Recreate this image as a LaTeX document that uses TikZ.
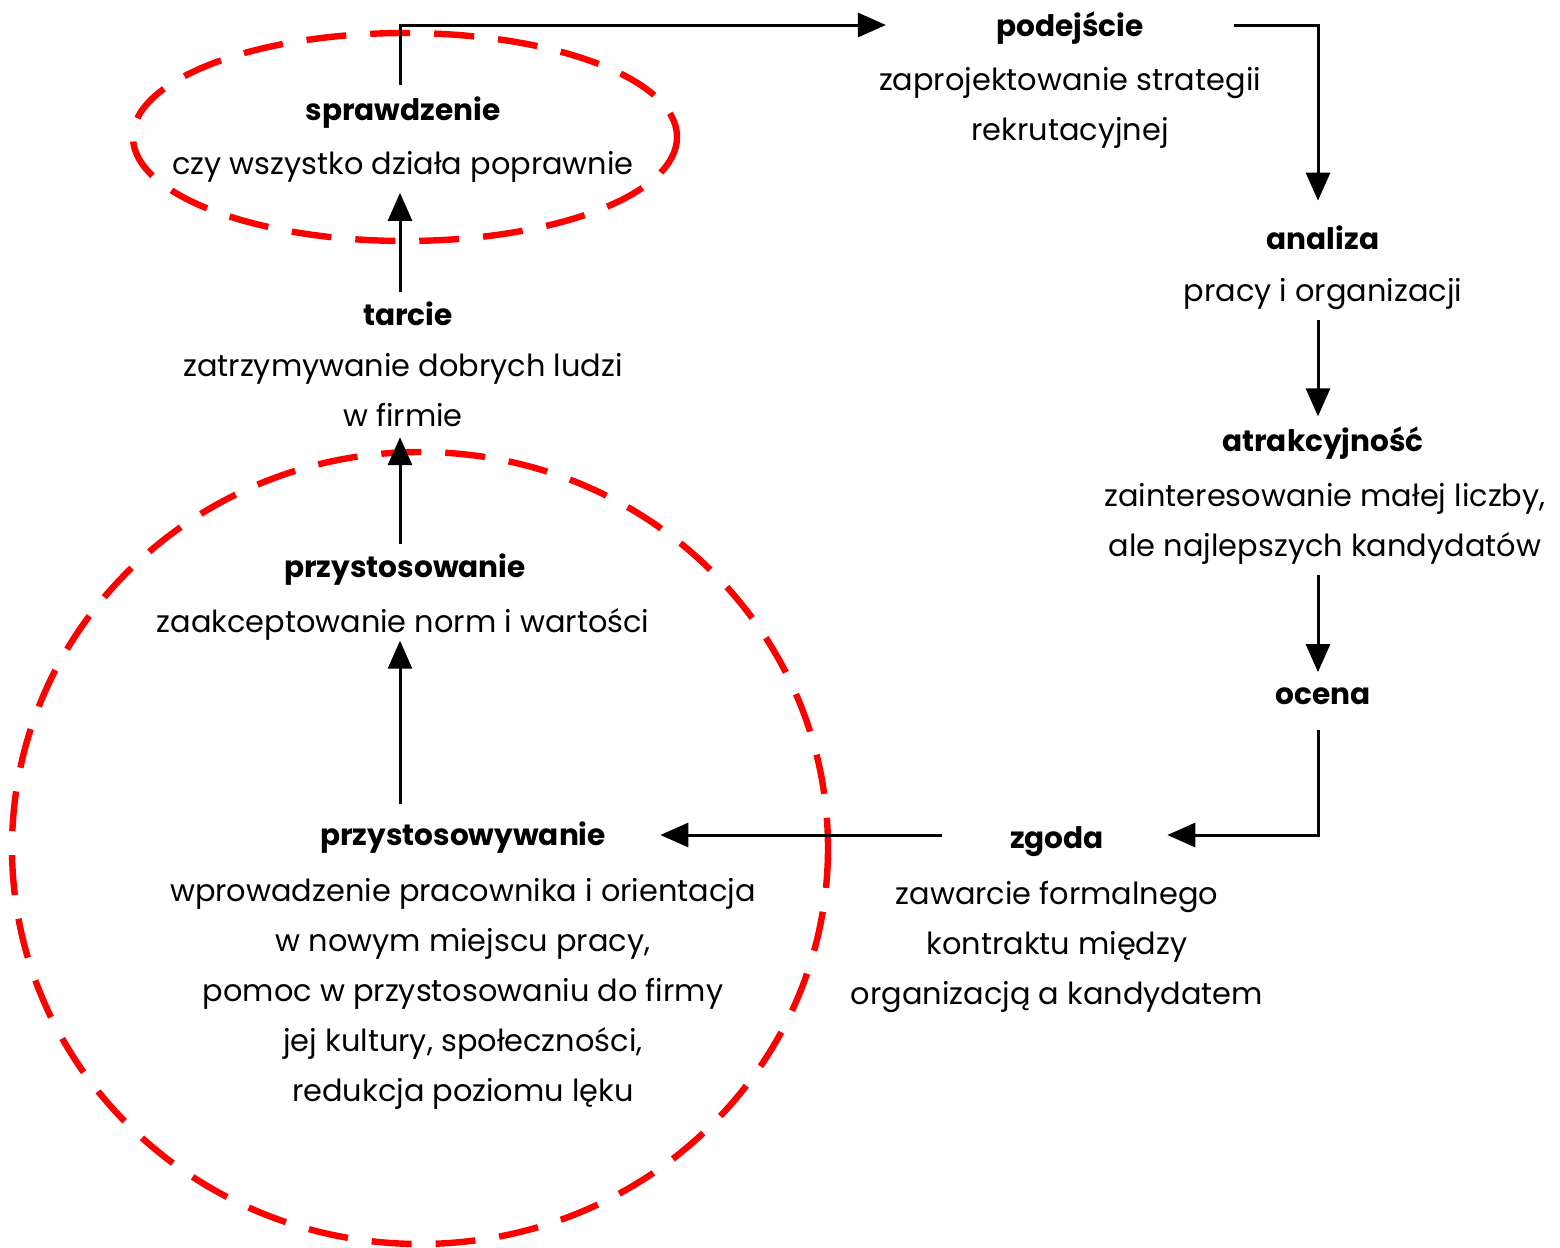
\documentclass[tikz,border=0pt]{standalone}
\usepackage{fontspec}
\setmainfont{Poppins}
\usetikzlibrary{arrows.meta,calc}
\begin{document}
\begin{tikzpicture}[x=0.5pt,y=-0.5pt,
  ttl/.style={font=\fontsize{14.8}{24}\selectfont\bfseries, inner sep=5pt},
  dsc/.style={font=\fontsize{15.2}{25}\selectfont, align=center, inner sep=5pt, anchor=north},
  arr/.style={line width=1.5pt, -{Triangle[length=14pt,width=12pt]}},
  reddash/.style={draw=red, line width=3.2pt, dash pattern=on 20pt off 12pt}]
\useasboundingbox (0,0) rectangle (1560,1248);
% red dashed ellipses
\draw[reddash] (405,137) ellipse [x radius=272, y radius=104];
\draw[reddash] (420,848) ellipse [x radius=408, y radius=396];
% nodes
\node[ttl] (sprT) at (403,113) {sprawdzenie};
\node[dsc] (sprD) at (403,141) {czy wszystko działa poprawnie};
\node[ttl] (podT) at (1070,28) {podejście};
\node[dsc] (podD) at (1070,57) {zaprojektowanie strategii\\rekrutacyjnej};
\node[ttl] (anaT) at (1323,238) {analiza};
\node[dsc] (anaD) at (1323,268) {pracy i organizacji};
\node[ttl] (atrT) at (1323,443) {atrakcyjność};
\node[dsc] (atrD) at (1325,473) {zainteresowanie małej liczby,\\ale najlepszych kandydatów};
\node[ttl] (ocT) at (1323,696) {ocena};
\node[ttl] (zgT) at (1057,842) {zgoda};
\node[dsc] (zgD) at (1057,871) {zawarcie formalnego\\kontraktu między\\organizacją a kandydatem};
\node[ttl] (przT) at (463,838) {przystosowywanie};
\node[dsc] (przD) at (463,868) {wprowadzenie pracownika i orientacja\\w nowym miejscu pracy,\\pomoc w przystosowaniu do firmy\\jej kultury, społeczności,\\redukcja poziomu lęku};
\node[ttl] (prsT) at (405,570) {przystosowanie};
\node[dsc] (prsD) at (403,598) {zaakceptowanie norm i wartości};
\node[ttl] (tarT) at (408,314) {tarcie};
\node[dsc] (tarD) at (403,343) {zatrzymywanie dobrych ludzi\\w firmie};
% connectors
\draw[arr] ($(sprT.north)+(-3,-2)$) |- ($(podT.west)+(-100,-3)$);
\draw[arr] ($(podT.east)+(80,-3)$) -| ($(anaT.north)+(-5,-15)$);
\draw[arr] ($(anaD.south)+(-5,0)$) -- ($(anaD.south |- atrT.north)+(-5,0)$);
\draw[arr] ($(atrD.south)+(-7,0)$) -- ($(atrD.south |- ocT.north)+(-7,-5)$);
\draw[arr] ($(ocT.south)+(-5,15)$) |- ($(zgT.east)+(53,-7)$);
\draw[arr] ($(zgT.west)+(-58,-7)$) -- ($(przT.east)+(44,-3)$);
\draw[arr] ($(przT.north -| prsD.south)+(-3,-8)$) -- ($(prsD.south)+(-3,-10)$);
\draw[arr] ($(prsT.north -| tarD.south)+(-3,0)$) -- ($(tarD.south)+(-3,0)$);
\draw[arr] ($(tarT.north -| sprD.south)+(-3,0)$) -- ($(sprD.south)+(-3,0)$);
\end{tikzpicture}
\end{document}
